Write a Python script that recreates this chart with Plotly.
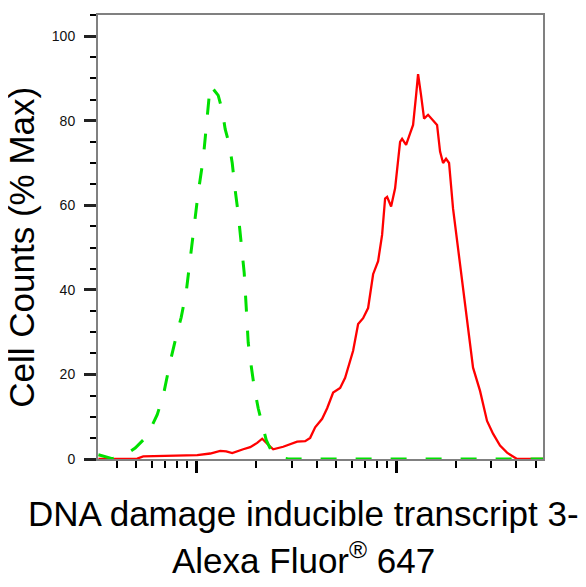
import plotly.graph_objects as go

# Green dashed histogram (control)
green_x = [324, 351, 380, 417, 457, 495, 543, 589, 638, 684, 741, 794, 841, 891,
           933, 977, 1023, 1084, 1135, 1175, 1216, 1288, 1349, 1396, 1462, 1514,
           1567, 1622, 1679, 1738, 1778, 1820, 1884, 1950, 2042, 2138, 2239, 2371,
           2570, 2884, 54325]
green_y = [1.0, 0.5, 0.1, 0.6, 1.5, 2.6, 4.5, 7.0, 10.5, 15, 23, 29, 33.5, 39.5,
           47, 55, 63, 71, 80, 88.4, 87.5, 86, 82.5, 78, 74.5, 70,
           63.5, 58, 51, 44, 36, 27.5, 22, 17, 12, 8.5, 4.5, 2,
           0.5, 0, 0]

# Red solid histogram (stained)
red_x = [324, 507, 543, 741, 1012, 1175, 1318, 1413, 1514, 1718, 1862, 2018, 2138,
         2265, 2427, 2723, 3199, 3508, 3715, 3936, 4266, 4519, 4842, 5248, 5559,
         6095, 6457, 6839, 7244, 7674, 8128, 8511, 8810, 9016, 9441, 9886, 10471,
         10715, 11220, 11749, 12162, 12589, 12882, 13335, 13804, 14454, 15311,
         16032, 16596, 17179, 17783, 18408, 19275, 20417, 21627, 22909, 24266,
         26303, 28510, 30549, 33113, 35892, 40272, 54325]
red_y = [0, 0.1, 0.6, 0.7, 0.9, 1.3, 1.9, 1.8, 1.4, 2.3, 2.8, 3.8, 4.8,
         3.6, 2.3, 2.9, 4.1, 4.2, 5.0, 7.5, 9.5, 12, 15.7, 16.8, 19.2,
         25.6, 31.9, 33.3, 35.7, 43.7, 46.8, 53, 61.6, 62, 59.7, 64, 75,
         75.7, 74.3, 77, 79, 86, 91, 86, 80.5, 81.4, 80.2,
         79, 72.7, 70, 71, 70, 59.2, 49.8, 40.4, 29.6, 21.6,
         16.1, 9, 6, 3.2, 1.5, 0, 0]

x_major = [1000, 10000]
x_minor = [400, 500, 600, 700, 800, 900,
           2000, 3000, 4000, 5000, 6000, 7000, 8000, 9000,
           20000, 30000, 40000, 50000]
y_ticks = [0, 20, 40, 60, 80, 100]

x_title_1 = "DNA damage inducible transcript 3-"
x_title_2 = "Alexa Fluor<sup>®</sup> 647"
y_title = "Cell Counts (% Max)"

FONT = "Arial, Liberation Sans"

fig = go.Figure()
fig.add_trace(go.Scatter(x=red_x, y=red_y, mode="lines",
                         line=dict(color="#FF0000", width=2.3), showlegend=False))
fig.add_trace(go.Scatter(x=green_x, y=green_y, mode="lines",
                         line=dict(color="#00E000", width=3, dash="16px,19px"),
                         showlegend=False))

fig.update_layout(
    width=586, height=587,
    margin=dict(l=90, r=51, t=5, b=136),
    plot_bgcolor="white", paper_bgcolor="white",
    font=dict(family=FONT, color="black"),
    xaxis=dict(type="log", range=[2.5085, 4.735],
               tickmode="array", tickvals=x_major, showticklabels=False,
               ticks="outside", ticklen=12, tickwidth=3, tickcolor="black",
               minor=dict(tickmode="array", tickvals=x_minor, ticks="outside",
                          ticklen=7, tickwidth=2, tickcolor="black"),
               showline=True, linecolor="#808080", linewidth=1.5, mirror=True,
               showgrid=False, zeroline=False),
    yaxis=dict(range=[0, 105], tickmode="array", tickvals=y_ticks,
               ticks="outside", ticklen=12, tickwidth=3, tickcolor="#222",
               tickfont=dict(size=14, family=FONT, color="#111"),
               ticklabelstandoff=6,
               minor=dict(dtick=5, ticks="outside", ticklen=6, tickwidth=1.5,
                          tickcolor="black"),
               showline=True, linecolor="#808080", linewidth=2, mirror=True,
               showgrid=False, zeroline=False),
    annotations=[
        dict(text=x_title_1, xref="paper", yref="paper", x=0.4629, y=-0.0733,
             xanchor="center", yanchor="top", showarrow=False,
             font=dict(size=35, family=FONT, color="black")),
        dict(text=x_title_2, xref="paper", yref="paper", x=0.4629, y=-0.168,
             xanchor="center", yanchor="top", showarrow=False,
             font=dict(size=35, family=FONT, color="black")),
        dict(text=y_title, xref="paper", yref="paper", x=-0.171, y=0.478,
             xanchor="center", yanchor="middle", textangle=-90, showarrow=False,
             font=dict(size=35, family=FONT, color="black")),
    ],
)

fig.write_html("out.html")
